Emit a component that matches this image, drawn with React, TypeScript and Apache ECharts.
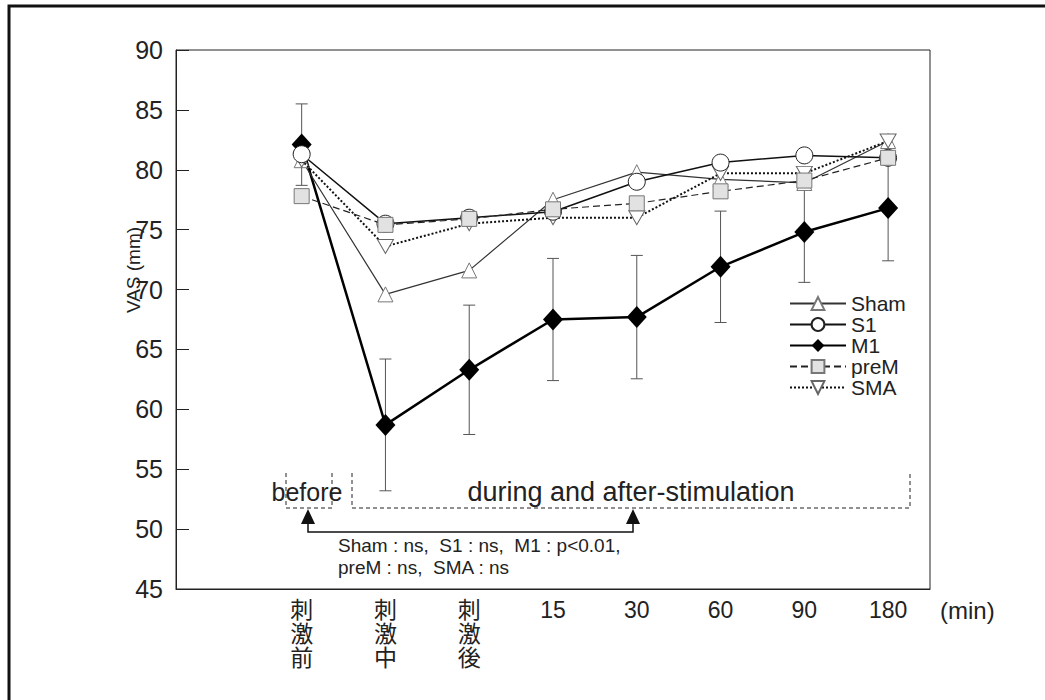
import React, { useEffect, useRef } from "react";
import * as echarts from "echarts";

const categories = ["", "刺\n激\n前", "刺\n激\n中", "刺\n激\n後", "15", "30", "60", "90", "180"];
const yTicks = [45, 50, 55, 60, 65, 70, 75, 80, 85, 90];
const sham = [null, 80.8, 69.6, 71.6, 77.5, 79.8, 79.2, 78.9, 82.4];
const s1 = [null, 81.3, 75.5, 76.0, 76.5, 79.0, 80.6, 81.2, 81.0];
const m1 = [null, 82.1, 58.7, 63.3, 67.5, 67.7, 71.9, 74.8, 76.8];
const preM = [null, 77.8, 75.4, 75.9, 76.7, 77.2, 78.2, 79.1, 81.0];
const sma = [null, 80.8, 73.6, 75.5, 76.0, 76.0, 79.7, 79.7, 82.4];
const m1Err = [null, 3.4, 5.5, 5.4, 5.1, 5.15, 4.65, 4.2, 4.4];

const FONT = "'Liberation Sans', 'Noto Sans CJK JP', sans-serif";

export default function App() {
  const ref = useRef<HTMLDivElement>(null);
  useEffect(() => {
    if (!ref.current) return;
    const chart = echarts.init(ref.current, null, { renderer: "svg" });
    const errData = m1
      .map((v, i) => (v == null ? null : [i, v, m1Err[i]]))
      .filter((d) => d != null);
    const dash = [4, 3];
    chart.setOption({
      animation: false,
      backgroundColor: "#fff",
      textStyle: { fontFamily: FONT },
      grid: {
        left: 176,
        top: 50,
        right: 115,
        bottom: 111,
        show: true,
        borderColor: "#222",
        borderWidth: 1,
      },
      legend: {
        orient: "vertical",
        left: 784,
        top: 288,
        itemWidth: 56,
        itemHeight: 16,
        itemGap: 0,
        data: ["Sham", "S1", "M1", "preM", "SMA"],
        textStyle: { fontSize: 21, lineHeight: 18, color: "#222", fontFamily: FONT },
      },
      xAxis: {
        type: "category",
        data: categories,
        boundaryGap: true,
        axisLine: { lineStyle: { color: "#222", width: 1 } },
        axisTick: { inside: true, alignWithLabel: true, length: 10, lineStyle: { color: "#222" } },
        axisLabel: {
          fontSize: 23,
          lineHeight: 24,
          color: "#222",
          margin: 9,
          interval: 0,
          fontFamily: FONT,
        },
        splitLine: { show: false },
      },
      yAxis: {
        type: "value",
        min: yTicks[0],
        max: yTicks[yTicks.length - 1],
        interval: 5,
        axisLine: { show: true, lineStyle: { color: "#222", width: 1 } },
        axisTick: { show: true, inside: true, length: 13, lineStyle: { color: "#222" } },
        axisLabel: { fontSize: 25, color: "#222", margin: 13, fontFamily: FONT },
        splitLine: { show: false },
      },
      graphic: [
        {
          type: "rect",
          silent: true,
          shape: { x: 9, y: 6, width: 1200, height: 900 },
          style: { fill: "none", stroke: "#111", lineWidth: 3 },
        },
        {
          type: "text",
          x: 133,
          y: 270,
          rotation: Math.PI / 2,
          style: {
            text: "VAS (mm)",
            fontSize: 19,
            fill: "#222",
            fontFamily: FONT,
            align: "center",
            verticalAlign: "middle",
          },
        },
        {
          type: "text",
          x: 940,
          y: 598,
          style: { text: "(min)", fontSize: 24, fill: "#222", fontFamily: FONT, align: "left", verticalAlign: "top" },
        },
        {
          type: "text",
          x: 307,
          y: 492,
          style: { text: "before", fontSize: 25, fill: "#222", fontFamily: FONT, align: "center", verticalAlign: "middle" },
        },
        {
          type: "text",
          x: 631,
          y: 492,
          style: {
            text: "during and after-stimulation",
            fontSize: 27,
            fill: "#222",
            fontFamily: FONT,
            align: "center",
            verticalAlign: "middle",
          },
        },
        {
          type: "polyline",
          shape: { points: [[286, 473], [286, 508], [332, 508], [332, 473]] },
          style: { stroke: "#222", lineWidth: 1, lineDash: dash, fill: "none" },
        },
        {
          type: "polyline",
          shape: { points: [[352, 473], [352, 508], [910, 508], [910, 473]] },
          style: { stroke: "#222", lineWidth: 1, lineDash: dash, fill: "none" },
        },
        {
          type: "polygon",
          shape: { points: [[308, 509], [301, 524], [315, 524]] },
          style: { fill: "#111" },
        },
        {
          type: "polygon",
          shape: { points: [[633, 509], [626, 524], [640, 524]] },
          style: { fill: "#111" },
        },
        {
          type: "polyline",
          shape: { points: [[308, 524], [308, 532], [633, 532], [633, 524]] },
          style: { stroke: "#111", lineWidth: 1.5, fill: "none" },
        },
        {
          type: "text",
          x: 338,
          y: 545,
          style: {
            text: "Sham : ns,  S1 : ns,  M1 : p<0.01,",
            fontSize: 19,
            fill: "#222",
            fontFamily: FONT,
            align: "left",
            verticalAlign: "middle",
          },
        },
        {
          type: "text",
          x: 338,
          y: 567,
          style: {
            text: "preM : ns,  SMA : ns",
            fontSize: 19,
            fill: "#222",
            fontFamily: FONT,
            align: "left",
            verticalAlign: "middle",
          },
        },
      ],
      series: [
        {
          type: "custom",
          name: "M1 SD",
          z: 1,
          silent: true,
          data: errData,
          renderItem: (params: any, api: any) => {
            const x = api.value(0);
            const y = api.value(1);
            const e = api.value(2);
            const top = api.coord([x, y + e]);
            const bot = api.coord([x, y - e]);
            const h = 6;
            const st = { stroke: "#555", lineWidth: 1 };
            return {
              type: "group",
              children: [
                { type: "line", shape: { x1: top[0], y1: top[1], x2: bot[0], y2: bot[1] }, style: st },
                { type: "line", shape: { x1: top[0] - h, y1: top[1], x2: top[0] + h, y2: top[1] }, style: st },
                { type: "line", shape: { x1: bot[0] - h, y1: bot[1], x2: bot[0] + h, y2: bot[1] }, style: st },
              ],
            };
          },
        },
        {
          name: "M1",
          type: "line",
          z: 2,
          data: m1,
          symbol: "diamond",
          symbolSize: [20, 22],
          lineStyle: { color: "#000", width: 2.5, type: "solid" },
          itemStyle: { color: "#000", borderColor: "#000", borderWidth: 0 },
        },
        {
          name: "Sham",
          type: "line",
          z: 3,
          data: sham,
          symbol: "triangle",
          symbolSize: 15,
          lineStyle: { color: "#333", width: 1.2, type: "solid" },
          itemStyle: { color: "#fff", borderColor: "#777", borderWidth: 1 },
        },
        {
          name: "SMA",
          type: "line",
          z: 4,
          data: sma,
          symbol: "path://M0,0L20,0L10,18Z",
          symbolSize: [16, 14],
          lineStyle: { color: "#111", width: 2, type: [2, 2] },
          itemStyle: { color: "#fff", borderColor: "#666", borderWidth: 1 },
        },
        {
          name: "S1",
          type: "line",
          z: 5,
          data: s1,
          symbol: "circle",
          symbolSize: 17,
          lineStyle: { color: "#111", width: 1.5, type: "solid" },
          itemStyle: { color: "#fff", borderColor: "#222", borderWidth: 1 },
        },
        {
          name: "preM",
          type: "line",
          z: 6,
          data: preM,
          symbol: "rect",
          symbolSize: 15,
          lineStyle: { color: "#222", width: 1.2, type: [7, 4] },
          itemStyle: { color: "#e2e2e2", borderColor: "#777", borderWidth: 1 },
        },
      ],
    });
    return () => chart.dispose();
  }, []);
  return (
    <div
      ref={ref}
      style={{ position: "absolute", left: 0, top: 0, width: 1045, height: 700, background: "#fff" }}
    />
  );
}
